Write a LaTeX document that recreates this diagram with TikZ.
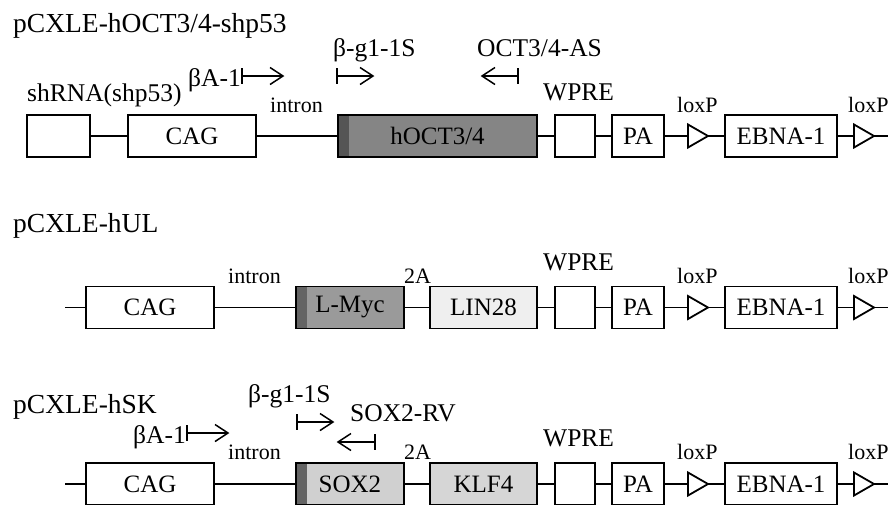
\documentclass[tikz,border=0pt]{standalone}
\usepackage{fontspec}
\setmainfont{Liberation Serif}
\usetikzlibrary{arrows.meta,shapes.geometric}
\definecolor{octfill}{HTML}{858585}
\definecolor{octstrip}{HTML}{555555}
\definecolor{mycfill}{HTML}{9A9A9A}
\definecolor{mycstrip}{HTML}{646464}
\definecolor{linfill}{HTML}{EFEFEF}
\definecolor{soxfill}{HTML}{D0D0D0}
\definecolor{soxstrip}{HTML}{646464}
\definecolor{klffill}{HTML}{D6D6D6}
\tikzset{
  gbox/.style={draw, line width=1.8pt, fill=white, inner sep=0pt, minimum height=42pt,
    font=\fontsize{25}{30}\selectfont},
  stripped/.style={path picture={\fill[#1] (path picture bounding box.north west) rectangle ([xshift=11pt]path picture bounding box.south west);}},
  lox/.style={draw, line width=1.8pt, fill=white, isosceles triangle, isosceles triangle stretches,
    minimum width=23pt, minimum height=20pt, inner sep=0pt, outer sep=0pt, anchor=lower side},
  wire/.style={line width=1.6pt},
  ttl/.style={anchor=base west, inner sep=0pt, font=\fontsize{27.5}{32}\selectfont},
  lbl/.style={anchor=base west, inner sep=0pt, font=\fontsize{25.5}{30}\selectfont},
  sml/.style={anchor=base west, inner sep=0pt, font=\fontsize{22}{26}\selectfont},
  pline/.style={line width=1.5pt, line join=miter},
}
% #1 start coordinate (bar), #2 end coordinate (tip), #3 direction (1 right, -1 left)
\newcommand\primerarrow[3]{%
  \draw[pline] (#1) -- (#2);
  \draw[pline] ([yshift=8pt]#1) -- ([yshift=-8pt]#1);
  \draw[pline] ([shift={(-#3*13pt,8.5pt)}]#2) -- (#2) -- ([shift={(-#3*13pt,-8.5pt)}]#2);
}
\begin{document}
\begin{tikzpicture}[x=1pt,y=-1pt]
\useasboundingbox (0,0) rectangle (890,504);
% ---------------- Row 1 ----------------
\node[ttl] (t1) at (13,32) {pCXLE-hOCT3/4-shp53};
\node[gbox, minimum width=63pt] (sh1) at (58.5,136) {};
\node[gbox, minimum width=128pt] (cag1) at (192,136) {CAG};
\node[gbox, minimum width=199pt, fill=octfill, stripped=octstrip] (oct1) at (437.5,136) {hOCT3/4};
\node[gbox, minimum width=40pt] (wp1) at (575,136) {};
\node[gbox, minimum width=52pt] (pa1) at (638,136) {PA};
\node[lox] (lxa1) at (688,136) {};
\node[gbox, minimum width=112pt] (eb1) at (781,136) {EBNA-1};
\node[lox] (lxb1) at (854,136) {};
\coordinate (end1) at (888,136);
\draw[wire] (sh1.east) -- (cag1.west);
\draw[wire] (cag1.east) -- (oct1.west);
\draw[wire] (oct1.east) -- (wp1.west);
\draw[wire] (wp1.east) -- (pa1.west);
\draw[wire] (pa1.east) -- (lxa1.lower side);
\draw[wire] (lxa1.apex) -- (eb1.west);
\draw[wire] (eb1.east) -- (lxb1.lower side);
\draw[wire] (lxb1.apex) -- (end1);
\node[lbl] (shl1) at (27,101) {shRNA(shp53)};
\node[lbl] (ba1) at (188,86) {βA-1};
\coordinate (ba1s) at (242,76); \coordinate (ba1e) at (283,76);
\primerarrow{ba1s}{ba1e}{1}
\node[lbl] (bg1) at (333,56) {β-g1-1S};
\coordinate (bg1s) at (337,76); \coordinate (bg1e) at (373,76);
\primerarrow{bg1s}{bg1e}{1}
\node[lbl] (as1) at (477,56) {OCT3/4-AS};
\coordinate (as1s) at (518,76); \coordinate (as1e) at (482,76);
\primerarrow{as1s}{as1e}{-1}
\node[sml] (in1) at (270,112) {intron};
\node[lbl] (wl1) at (543,100) {WPRE};
\node[sml] (lo1a) at (677,112) {loxP};
\node[sml] (lo1b) at (848,112) {loxP};
% ---------------- Row 2 ----------------
\node[ttl] (t2) at (13,232) {pCXLE-hUL};
\coordinate (st2) at (65,307.5);
\node[gbox, minimum width=128pt] (cag2) at (150,307.5) {CAG};
\node[gbox, minimum width=108pt, fill=mycfill, stripped=mycstrip] (myc2) at (350,307.5) {L-Myc};
\node[gbox, minimum width=107pt, fill=linfill] (lin2) at (483.5,307.5) {LIN28};
\node[gbox, minimum width=40pt] (wp2) at (575,307.5) {};
\node[gbox, minimum width=52pt] (pa2) at (638,307.5) {PA};
\node[lox] (lxa2) at (688,307.5) {};
\node[gbox, minimum width=112pt] (eb2) at (781,307.5) {EBNA-1};
\node[lox] (lxb2) at (854,307.5) {};
\coordinate (end2) at (888,307.5);
\draw[wire] (st2) -- (cag2.west);
\draw[wire] (cag2.east) -- (myc2.west);
\draw[wire] (myc2.east) -- (lin2.west);
\draw[wire] (lin2.east) -- (wp2.west);
\draw[wire] (wp2.east) -- (pa2.west);
\draw[wire] (pa2.east) -- (lxa2.lower side);
\draw[wire] (lxa2.apex) -- (eb2.west);
\draw[wire] (eb2.east) -- (lxb2.lower side);
\draw[wire] (lxb2.apex) -- (end2);
\node[sml] (in2) at (228,283) {intron};
\node[sml] (ta2) at (404,283) {2A};
\node[lbl] (wl2) at (543,270) {WPRE};
\node[sml] (lo2a) at (677,283) {loxP};
\node[sml] (lo2b) at (848,283) {loxP};
% ---------------- Row 3 ----------------
\node[ttl] (t3) at (13,413) {pCXLE-hSK};
\coordinate (st3) at (65,484);
\node[gbox, minimum width=128pt] (cag3) at (150,484) {CAG};
\node[gbox, minimum width=108pt, fill=soxfill, stripped=soxstrip] (sox3) at (350,484) {SOX2};
\node[gbox, minimum width=107pt, fill=klffill] (klf3) at (483.5,484) {KLF4};
\node[gbox, minimum width=40pt] (wp3) at (575,484) {};
\node[gbox, minimum width=52pt] (pa3) at (638,484) {PA};
\node[lox] (lxa3) at (688,484) {};
\node[gbox, minimum width=112pt] (eb3) at (781,484) {EBNA-1};
\node[lox] (lxb3) at (854,484) {};
\coordinate (end3) at (888,484);
\draw[wire] (st3) -- (cag3.west);
\draw[wire] (cag3.east) -- (sox3.west);
\draw[wire] (sox3.east) -- (klf3.west);
\draw[wire] (klf3.east) -- (wp3.west);
\draw[wire] (wp3.east) -- (pa3.west);
\draw[wire] (pa3.east) -- (lxa3.lower side);
\draw[wire] (lxa3.apex) -- (eb3.west);
\draw[wire] (eb3.east) -- (lxb3.lower side);
\draw[wire] (lxb3.apex) -- (end3);
\node[lbl] (ba3) at (133,443) {βA-1};
\coordinate (ba3s) at (187,433); \coordinate (ba3e) at (228,433);
\primerarrow{ba3s}{ba3e}{1}
\node[lbl] (bg3) at (248,402) {β-g1-1S};
\coordinate (bg3s) at (297,422); \coordinate (bg3e) at (333,422);
\primerarrow{bg3s}{bg3e}{1}
\node[lbl] (rv3) at (350,421) {SOX2-RV};
\coordinate (rv3s) at (375,442); \coordinate (rv3e) at (338,442);
\primerarrow{rv3s}{rv3e}{-1}
\node[sml] (in3) at (228,459) {intron};
\node[sml] (ta3) at (404,459) {2A};
\node[lbl] (wl3) at (543,446) {WPRE};
\node[sml] (lo3a) at (677,459) {loxP};
\node[sml] (lo3b) at (848,459) {loxP};
\end{tikzpicture}
\end{document}
